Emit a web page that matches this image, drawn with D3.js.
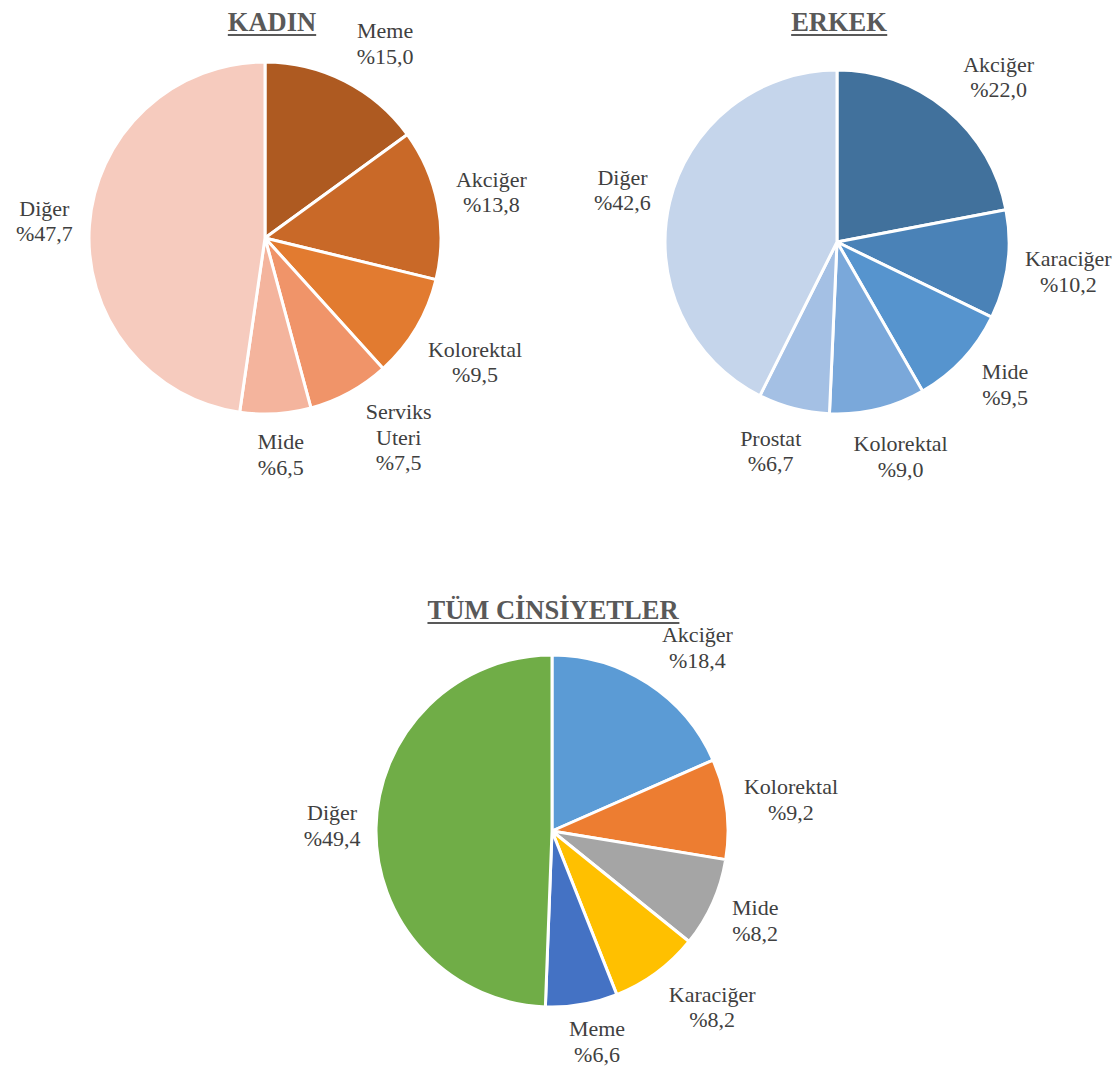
<!DOCTYPE html>
<html>
<head>
<meta charset="utf-8">
<script src="https://cdn.jsdelivr.net/npm/d3@7"></script>
<style>
  body { margin: 0; background: #fff; }
</style>
</head>
<body>
<svg id="chart" width="1119" height="1070"></svg>
<script>
// data, clockwise from 12 o'clock
const kadinLabels = ['Meme', 'Akciğer', 'Kolorektal', 'Serviks\nUteri', 'Mide', 'Diğer'];
const kadinValues = [15.0, 13.8, 9.5, 7.5, 6.5, 47.7];
const kadinColors = ['#ae5a21', '#c96928', '#e27b30', '#f09469', '#f4b49d', '#f6cbbe'];

const erkekLabels = ['Akciğer', 'Karaciğer', 'Mide', 'Kolorektal', 'Prostat', 'Diğer'];
const erkekValues = [22.0, 10.2, 9.5, 9.0, 6.7, 42.6];
const erkekColors = ['#41719c', '#4a82b7', '#5694ce', '#7aa8da', '#a4c0e4', '#c5d5eb'];

const tumLabels = ['Akciğer', 'Kolorektal', 'Mide', 'Karaciğer', 'Meme', 'Diğer'];
const tumValues = [18.4, 9.2, 8.2, 8.2, 6.6, 49.4];
const tumColors = ['#5b9bd5', '#ed7d31', '#a5a5a5', '#ffc000', '#4472c4', '#70ad47'];

const W = 1119, H = 1070;
const FONT = 'Liberation Serif, Times New Roman, serif';
const svg = d3.select('#chart');

function fmt(v) {
    return '%' + v.toFixed(1).replace('.', ',');
}

function drawPie(opts) {
    const g = svg.append('g').attr('transform', `translate(${opts.cx},${opts.cy})`);
    const data = opts.labels.map((l, i) => ({label: l, value: opts.values[i], color: opts.colors[i]}));

    const pie = d3.pie().sort(null).value(d => d.value);
    const arc = d3.arc().innerRadius(0).outerRadius(opts.r);
    const arcs = pie(data);

    g.selectAll('path.slice')
        .data(arcs)
        .enter()
        .append('path')
        .attr('class', 'slice')
        .attr('d', arc)
        .attr('fill', d => d.data.color)
        .attr('stroke', '#fff')
        .attr('stroke-width', 3)
        .attr('stroke-linejoin', 'round');

    // labels: outside end, box just clear of the arc.
    // labels near top/bottom get eased toward the horizontal
    const lineH = 25.5;
    const pad = 15;
    arcs.forEach(a => {
        const lines = a.data.label.split('\n').concat([fmt(a.data.value)]);
        const t = g.append('text')
            .attr('font-family', FONT)
            .attr('font-size', 22)
            .attr('fill', '#404040')
            .attr('text-anchor', 'middle');
        lines.forEach(s => t.append('tspan').text(s));
        let w = 0;
        t.selectAll('tspan').each(function() { w = Math.max(w, this.getComputedTextLength()); });
        const hw = w / 2, hh = lines.length * lineH / 2;
        const mid = (a.startAngle + a.endAngle) / 2;
        const wgt = Math.max(0, Math.min(1, (Math.abs(Math.cos(mid)) - 0.6) / 0.2));
        const th = mid + 6 * wgt * Math.PI / 180 * Math.sin(2 * mid);

        const ux = Math.sin(th), uy = -Math.cos(th);
        const d = opts.r + pad + Math.abs(ux) * hw + Math.abs(uy) * hh;
        const x = ux * d;
        let y = uy * d;
        // keep inside the picture
        y = Math.min(y, H - 2 - hh - opts.cy);
        y = Math.max(y, 2 + hh - opts.cy);
        t.selectAll('tspan')
            .attr('x', x)
            .attr('y', (s, i) => y - hh + lineH * i + 19);
    });

    // title, underlined
    const title = svg.append('text')
        .attr('x', opts.tx)
        .attr('y', opts.ty)
        .attr('text-anchor', 'middle')
        .attr('font-family', FONT)
        .attr('font-size', 26.5)
        .attr('font-weight', 'bold')
        .attr('fill', '#595959')
        .text(opts.title);
    const bb = title.node().getBBox();
    svg.append('line')
        .attr('x1', bb.x).attr('x2', bb.x + bb.width)
        .attr('y1', opts.ty + 4).attr('y2', opts.ty + 4)
        .attr('stroke', '#595959')
        .attr('stroke-width', 2);
}

drawPie({title: 'KADIN', tx: 272, ty: 31, cx: 265, cy: 238, r: 176,
    labels: kadinLabels, values: kadinValues, colors: kadinColors});
drawPie({title: 'ERKEK', tx: 839, ty: 31, cx: 837, cy: 242, r: 172,
    labels: erkekLabels, values: erkekValues, colors: erkekColors});
drawPie({title: 'TÜM CİNSİYETLER', tx: 553, ty: 619, cx: 552, cy: 831, r: 176,
    labels: tumLabels, values: tumValues, colors: tumColors});
</script>
</body>
</html>
